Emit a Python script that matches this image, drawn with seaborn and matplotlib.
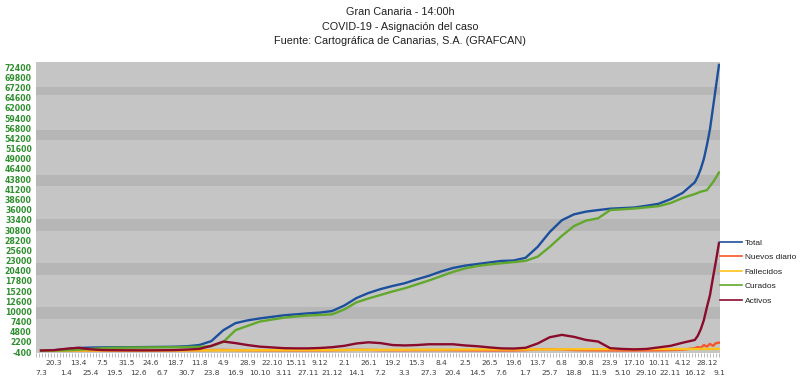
import pandas as pd
import seaborn as sns
import matplotlib.pyplot as plt
import matplotlib.dates as mdates

# etiquetas del eje x (cada 12 dias aprox.)
etiquetas = ["7.3", "20.3", "1.4", "13.4", "25.4", "7.5", "19.5", "31.5", "12.6", "24.6",
             "6.7", "18.7", "30.7", "11.8", "23.8", "4.9", "16.9", "28.9", "10.10", "22.10",
             "3.11", "15.11", "27.11", "9.12", "21.12", "2.1", "14.1", "26.1", "7.2", "19.2",
             "3.3", "15.3", "27.3", "8.4", "20.4", "2.5", "14.5", "26.5", "7.6", "19.6",
             "1.7", "13.7", "25.7", "6.8", "18.8", "30.8", "11.9", "23.9", "5.10", "17.10",
             "29.10", "10.11", "22.11", "4.12", "16.12", "28.12", "9.1"]

# fechas de los puntos leidos (etiquetas hasta 4.12 y cada 3 dias al final)
puntos = etiquetas[:54] + ["16.12", "19.12", "22.12", "25.12", "28.12", "31.12", "3.1", "6.1", "9.1"]

total = [5, 80, 350, 650, 750, 800, 830, 850, 870, 900,
         930, 980, 1100, 1400, 2400, 5200, 7000, 7700, 8200, 8600,
         9000, 9250, 9500, 9700, 10100, 11500, 13400, 14700, 15700, 16500,
         17200, 18200, 19100, 20200, 21100, 21700, 22100, 22500, 22900, 23000,
         23700, 26500, 30300, 33300, 34800, 35500, 35900, 36250, 36400, 36550,
         37000, 37500, 38700, 40300,
         43000, 44500, 46500, 49000, 52500, 56500, 62000, 67500, 73000]

curados = [0, 10, 50, 200, 400, 600, 700, 750, 790, 810,
           830, 850, 900, 950, 1100, 2200, 5200, 6300, 7400, 7900,
           8400, 8700, 8950, 9100, 9250, 10500, 12300, 13300, 14200, 15100,
           15900, 16900, 17900, 19000, 20100, 21000, 21600, 22000, 22300, 22600,
           22900, 24000, 26500, 29300, 31800, 33200, 33800, 35900, 36100, 36300,
           36600, 36900, 37700, 39000,
           40000, 40300, 40600, 40800, 41000, 42000, 43000, 44200, 45500]

activos = [0, 100, 450, 700, 300, 120, 80, 60, 50, 50,
           80, 120, 250, 400, 1200, 2300, 1900, 1400, 1000, 800,
           600, 550, 550, 650, 850, 1200, 1800, 2100, 1900, 1400,
           1300, 1400, 1600, 1600, 1600, 1300, 1100, 800, 550, 500,
           700, 1800, 3400, 4000, 3500, 2700, 2300, 600, 400, 300,
           400, 800, 1200, 2000,
           2700, 3800, 5500, 7800, 11100, 14100, 18600, 22900, 27500]

fallecidos = [0, 5, 15, 20, 25, 25, 25, 25, 25, 25,
              30, 30, 30, 35, 40, 50, 60, 70, 80, 90,
              100, 105, 110, 115, 120, 130, 150, 170, 180, 195,
              205, 215, 220, 230, 240, 250, 255, 260, 262, 265,
              270, 280, 290, 300, 320, 330, 340, 345, 350, 355,
              360, 365, 368, 370,
              380, 385, 390, 392, 395, 400, 405, 410, 420]

nuevos = [5, 20, 40, 20, 10, 5, 0, 0, 0, 2,
          5, 10, 30, 60, 120, 150, 90, 60, 40, 30,
          30, 25, 30, 40, 70, 120, 180, 150, 90, 70,
          70, 90, 100, 110, 80, 50, 40, 30, 20, 30,
          100, 300, 350, 250, 120, 80, 50, 30, 20, 20,
          40, 60, 120, 200,
          600, 900, 700, 1400, 1000, 1700, 1200, 1900, 2000]

series = ["Total", "Nuevos diario", "Fallecidos", "Curados", "Activos"]
colores = ["#1c4f9c", "#f5562a", "#ffc21a", "#62a82c", "#8a0b2c"]


def a_fechas(lista, anio=2020):
    out = []
    mes_prev = 0
    for s in lista:
        d, m = map(int, s.split("."))
        if m < mes_prev:
            anio += 1
        mes_prev = m
        out.append(pd.Timestamp(anio, m, d))
    return out


fechas_tick = a_fechas(etiquetas)
fechas = a_fechas(puntos)

frames = []
for nombre, vals in zip(series, [total, nuevos, fallecidos, curados, activos]):
    frames.append(pd.DataFrame({"fecha": fechas, "casos": vals, "serie": nombre}))
df = pd.concat(frames, ignore_index=True)

fig = plt.figure(figsize=(8, 3.91), dpi=100)
ax = fig.add_axes([0.045, 0.097, 0.855, 0.744])
ax.set_facecolor("#c5c5c5")

# bandas oscuras del fondo
bandas = [(65224, 67274), (53690, 56253), (42157, 44976), (30623, 33699), (19346, 22422), (8070, 11145)]
for lo, hi in bandas:
    ax.axhspan(lo, hi, color="#b6b6b6", lw=0, zorder=0)

sns.lineplot(data=df, x="fecha", y="casos", hue="serie", hue_order=series,
             palette=colores, linewidth=1.7, ax=ax, zorder=3)

ax.set_ylim(-650, 73700)
ax.set_xlim(pd.Timestamp(2020, 3, 2), pd.Timestamp(2022, 1, 10))
yt = list(range(-400, 72401, 2600))
ax.set_yticks(yt)
ax.set_yticklabels([str(v) for v in yt], color="#2f8f2f", fontsize=5.6,
                   fontweight="bold", family="DejaVu Sans")

# dos filas de etiquetas: impares arriba (major), pares abajo (minor)
ax.set_xticks(fechas_tick[1::2])
ax.set_xticklabels(etiquetas[1::2], color="#404040", fontsize=5.4, family="DejaVu Sans")
ax.set_xticks(fechas_tick[0::2], minor=True)
ax.set_xticklabels(etiquetas[0::2], minor=True, color="#404040", fontsize=5.4, family="DejaVu Sans")
ax.tick_params(axis="x", which="major", length=0, pad=5)
ax.tick_params(axis="x", which="minor", length=0, pad=12)
ax.tick_params(axis="y", length=0, pad=3)
ax.set_xlabel("")
ax.set_ylabel("")
for s in ax.spines.values():
    s.set_visible(False)

# marcas pequenas diarias bajo el eje
marcas = ax.twiny()
marcas.set_xlim(ax.get_xlim())
marcas.xaxis.set_ticks_position("bottom")
marcas.xaxis.set_major_locator(mdates.DayLocator(interval=3))
marcas.tick_params(axis="x", length=3, width=0.5, color="#a0a0a0", labelbottom=False, labeltop=False)
for s in marcas.spines.values():
    s.set_visible(False)

leg = ax.legend(loc="center left", bbox_to_anchor=(0.9, 1 - 272 / 391),
                bbox_transform=fig.transFigure, frameon=False,
                borderpad=0, borderaxespad=0,
                handlelength=2.6, handletextpad=0.35, labelspacing=0.8,
                prop={"family": "Liberation Sans", "size": 6})
for h in leg.get_lines():
    h.set_linewidth(1.2)
for t in leg.get_texts():
    t.set_color("#202020")

titulos = ["Gran Canaria - 14:00h", "COVID-19 - Asignación del caso",
           "Fuente: Cartográfica de Canarias, S.A. (GRAFCAN)"]
for k, t in enumerate(titulos):
    fig.text(0.5, 1 - (12 + 14.5 * k) / 391, t, ha="center", va="center", fontsize=7.8,
             color="#202020", family="Liberation Sans")

fig.savefig("out.png", dpi=100, facecolor="white")
